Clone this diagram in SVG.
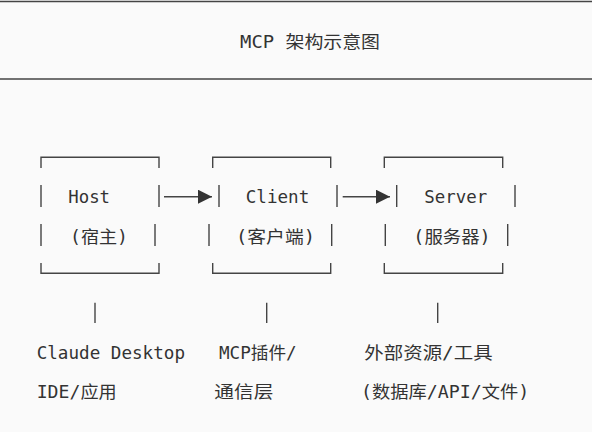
<svg xmlns="http://www.w3.org/2000/svg" width="592" height="432" viewBox="0 0 592 432">
<style>
.ln{stroke:#444;stroke-width:1.4;fill:none}
.t{font-family:"DejaVu Sans Mono","Noto Sans CJK SC",monospace;font-size:17px;fill:#333}
</style>
<defs>
<marker id="ah" viewBox="0 0 14 14" refX="14" refY="7" markerWidth="14" markerHeight="14" markerUnits="userSpaceOnUse" orient="auto"><path d="M0,0 L14,7 L0,14 Z" fill="#333"/></marker>
</defs>
<rect width="592" height="432" fill="#fafafa"/>
<g id="title">
<line class="ln" x1="0" y1="1.5" x2="592" y2="1.5"/>
<line class="ln" x1="0" y1="79" x2="592" y2="79"/>
<text class="t" x="240" y="47.5" textLength="140" lengthAdjust="spacingAndGlyphs">MCP 架构示意图</text>
</g>
<g id="host">
<path class="ln" d="M41,168 V157.3 H159 V168 M41,263 V273.3 H159 V263 M41,185 V207 M159,185 V207 M41,224 V246 M155,224 V246"/>
<text class="t" x="68.3" y="203" textLength="41.7" lengthAdjust="spacingAndGlyphs">Host</text>
<text class="t" x="70" y="243" textLength="58" lengthAdjust="spacingAndGlyphs">(宿主)</text>
</g>
<g id="client">
<path class="ln" d="M212.7,168 V157.3 H330.7 V168 M212.7,263 V273.3 H330.7 V263 M219,185 V207 M337,185 V207 M209,224 V246 M331.7,224 V246"/>
<text class="t" x="245.7" y="203" textLength="63.6" lengthAdjust="spacingAndGlyphs">Client</text>
<text class="t" x="236" y="243" textLength="79" lengthAdjust="spacingAndGlyphs">(客户端)</text>
</g>
<g id="server">
<path class="ln" d="M384.3,168 V157.3 H502.7 V168 M384.3,263 V273.3 H502.7 V263 M396.7,185 V207 M515,185 V207 M385.3,224 V246 M507.7,224 V246"/>
<text class="t" x="424.3" y="203" textLength="63" lengthAdjust="spacingAndGlyphs">Server</text>
<text class="t" x="413.3" y="243" textLength="77.4" lengthAdjust="spacingAndGlyphs">(服务器)</text>
</g>
<g id="connectors">
<line class="ln" x1="164" y1="196.7" x2="212" y2="196.7" marker-end="url(#ah)"/>
<line class="ln" x1="342.7" y1="196.7" x2="390" y2="196.7" marker-end="url(#ah)"/>
<line class="ln" x1="95" y1="302.7" x2="95" y2="323"/>
<line class="ln" x1="266.7" y1="302.7" x2="266.7" y2="323"/>
<line class="ln" x1="437.7" y1="302.7" x2="437.7" y2="323"/>
</g>
<g id="host-desc">
<text class="t" x="36.7" y="359" textLength="148.3" lengthAdjust="spacingAndGlyphs">Claude Desktop</text>
<text class="t" x="36.7" y="398" textLength="80" lengthAdjust="spacingAndGlyphs">IDE/应用</text>
</g>
<g id="client-desc">
<text class="t" x="219" y="359" textLength="77.7" lengthAdjust="spacingAndGlyphs">MCP插件/</text>
<text class="t" x="214.3" y="398" textLength="59" lengthAdjust="spacingAndGlyphs">通信层</text>
</g>
<g id="server-desc">
<text class="t" x="364.3" y="359" textLength="128.4" lengthAdjust="spacingAndGlyphs">外部资源/工具</text>
<text class="t" x="361" y="398" textLength="168.3" lengthAdjust="spacingAndGlyphs">(数据库/API/文件)</text>
</g>
</svg>
